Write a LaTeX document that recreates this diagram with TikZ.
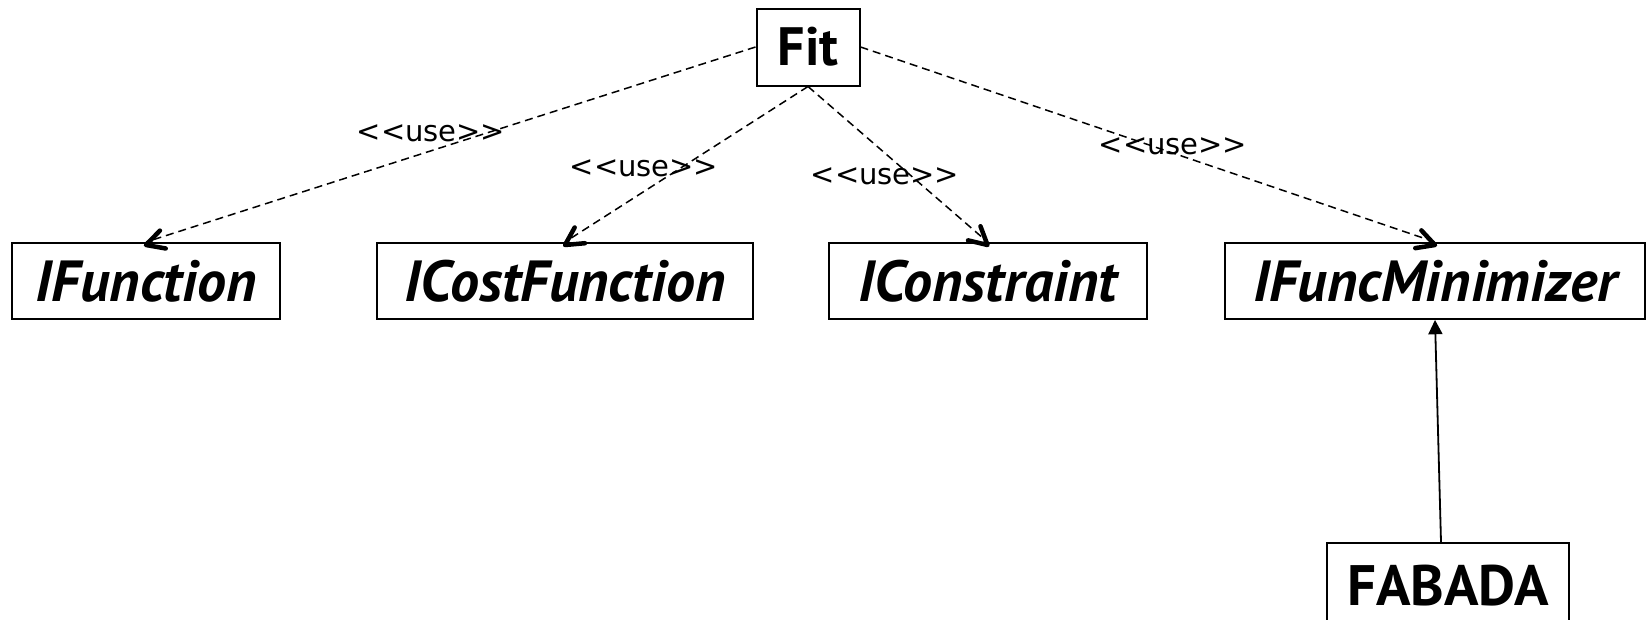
\documentclass[tikz,border=0pt]{standalone}
\usepackage{fontspec}
\setmainfont{PT Sans}
\newfontfamily\lblfont{DejaVu Sans}
\usetikzlibrary{calc}
\begin{document}
\begin{tikzpicture}[x=1pt,y=-1pt,
  cls/.style={draw,line width=2pt,inner sep=0pt,anchor=center},
  iface/.style={cls,font=\fontsize{58}{62}\selectfont\bfseries\itshape},
  conc/.style={cls,font=\fontsize{54}{58}\selectfont\bfseries},
  useline/.style={dash pattern=on 8pt off 5pt,line width=1.5pt},
  usehead/.style={solid,line width=4.5pt,line cap=round,line join=round},
  inherit/.style={line width=1.8pt},
  lbl/.style={font=\lblfont\fontsize{29}{32}\selectfont,inner sep=0pt}]
\useasboundingbox (0,0) rectangle (1648,619);
\clip (0,0) rectangle (1648,619);
\fill[white] (0,0) rectangle (1648,619);
\node[conc,minimum width=103pt,minimum height=77pt] (fit) at (808,47) {Fit};
\node[iface,minimum width=268pt,minimum height=76pt] (ifunc) at (146,281) {IFunction};
\node[iface,minimum width=376pt,minimum height=76pt] (icost) at (565,281) {ICostFunction};
\node[iface,minimum width=318pt,minimum height=76pt] (icons) at (987.5,281) {IConstraint};
\node[iface,minimum width=420pt,minimum height=76pt] (imin) at (1435,281) {IFuncMinimizer};
\node[conc,font=\fontsize{57}{60}\selectfont\bfseries,minimum width=242pt,minimum height=86pt] (fabada) at (1448,586) {FABADA};
\coordinate (t1) at ([yshift=-3pt]ifunc.north);
\coordinate (t2) at ([yshift=-3pt]icost.north);
\coordinate (t3) at ([yshift=-3pt]icons.north);
\coordinate (t4) at ([yshift=-3pt]imin.north);
\draw[useline] (fit.west) -- (ifunc.north);
\draw[usehead] ($(t1)!20pt!28:(fit.west)$) -- (t1) -- ($(t1)!20pt!-28:(fit.west)$);
\draw[useline] (fit.south) -- (icost.north);
\draw[usehead] ($(t2)!20pt!28:(fit.south)$) -- (t2) -- ($(t2)!20pt!-28:(fit.south)$);
\draw[useline] (fit.south) -- (icons.north);
\draw[usehead] ($(t3)!20pt!28:(fit.south)$) -- (t3) -- ($(t3)!20pt!-28:(fit.south)$);
\draw[useline] (fit.east) -- (imin.north);
\draw[usehead] ($(t4)!20pt!28:(fit.east)$) -- (t4) -- ($(t4)!20pt!-28:(fit.east)$);
\coordinate (fabtop) at ([xshift=-7pt]fabada.north);
\draw[inherit] (fabtop) -- ($(imin.south)!14pt!(fabtop)$);
\fill ($(imin.south)!16pt!27:(fabtop)$) -- (imin.south) -- ($(imin.south)!16pt!-27:(fabtop)$) -- cycle;
\node[lbl] (l1) at (431,133) {<{}<use>{}>};
\node[lbl] (l2) at (644,168) {<{}<use>{}>};
\node[lbl] (l3) at (885,176) {<{}<use>{}>};
\node[lbl] (l4) at (1173,146) {<{}<use>{}>};
\end{tikzpicture}
\end{document}
